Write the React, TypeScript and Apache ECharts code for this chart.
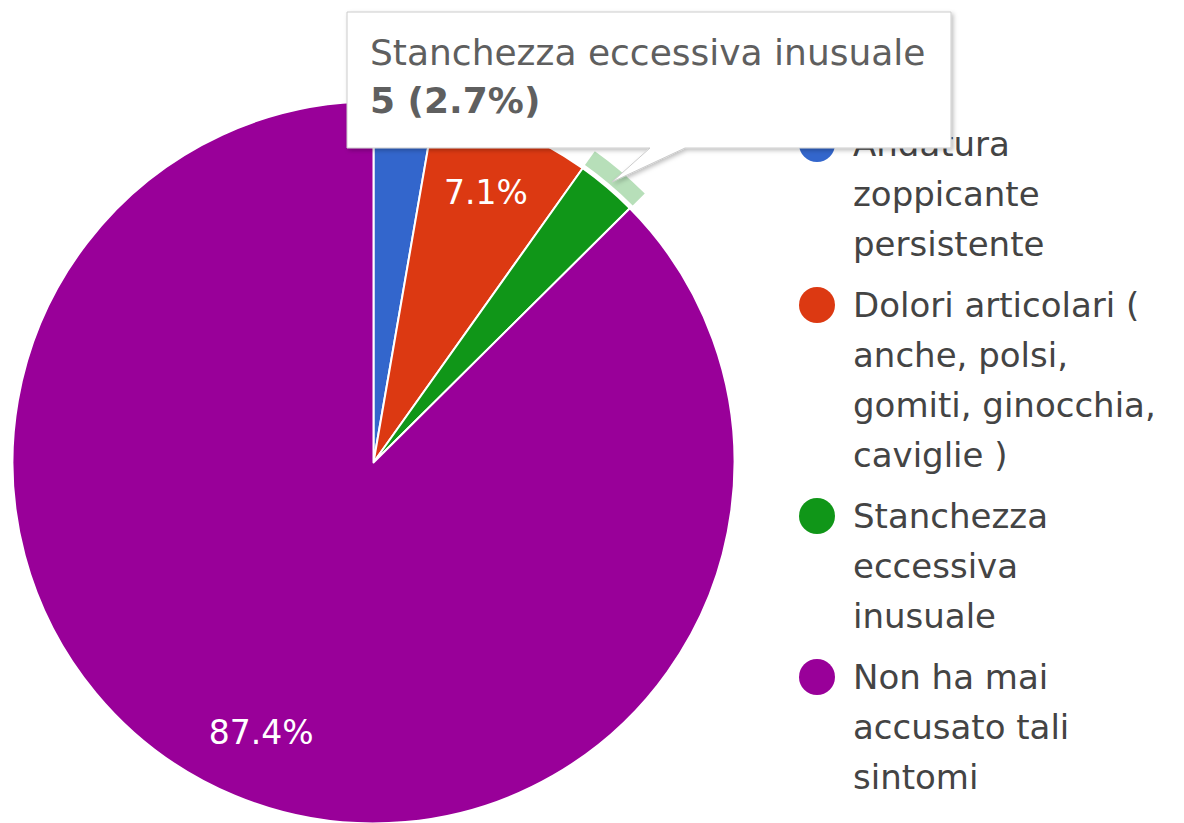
import React, { useEffect, useRef } from "react";
import * as echarts from "echarts";

const categories = [
  "Andatura zoppicante persistente",
  "Dolori articolari ( anche, polsi, gomiti, ginocchia, caviglie )",
  "Stanchezza eccessiva inusuale",
  "Non ha mai accusato tali sintomi",
];
const values = [5, 13, 5, 160];
const colors = ["#3366cc", "#dc3912", "#109618", "#990099"];
const haloColor = "#b7dfb9";
const legendLines = [
  ["Andatura", "zoppicante", "persistente"],
  ["Dolori articolari (", "anche, polsi,", "gomiti, ginocchia,", "caviglie )"],
  ["Stanchezza", "eccessiva", "inusuale"],
  ["Non ha mai", "accusato tali", "sintomi"],
];
const highlightedIndex = 2;

const FONT = "DejaVu Sans";

export default function App() {
  const ref = useRef<HTMLDivElement>(null);
  useEffect(() => {
    document.body.style.margin = "0";
    const chart = echarts.init(ref.current!, null, { renderer: "svg" });
    const total = values.reduce((a, b) => a + b, 0);
    const pct = (v: number) => ((v / total) * 100).toFixed(1) + "%";
    const data = categories.map((name, i) => ({ name, value: values[i] }));
    const center = [373.5, 462.5];

    const rich: any = {
      s: { width: 18, height: 36 },
      p: { width: 54, height: 36 },
      t: { fontSize: 34, fontFamily: FONT, color: "#444444", lineHeight: 50 },
    };
    colors.forEach((c, i) => {
      rich["d" + i] = {
        width: 36,
        height: 36,
        borderRadius: 18,
        backgroundColor: c,
        lineHeight: 50,
      };
    });

    chart.setOption({
      animation: false,
      backgroundColor: "#ffffff",
      color: colors,
      legend: {
        orient: "vertical",
        left: 794,
        top: 119,
        padding: 0,
        itemGap: 11,
        icon: "none",
        itemWidth: 0,
        itemHeight: 36,
        data: categories,
        formatter: (name: string) => {
          const i = categories.indexOf(name);
          return legendLines[i]
            .map((line, k) =>
              k === 0 ? `{d${i}|}{s|}{t|${line}}` : `{p|}{t|${line}}`
            )
            .join("\n");
        },
        textStyle: {
          fontSize: 34,
          fontFamily: FONT,
          color: "#444444",
          lineHeight: 50,
          rich,
        },
      },
      series: [
        {
          type: "pie",
          name: "main",
          center,
          radius: [0, 361],
          startAngle: 90,
          clockwise: true,
          silent: true,
          label: { show: false },
          labelLine: { show: false },
          itemStyle: { borderColor: "#ffffff", borderWidth: 2 },
          data: data.map((d, i) => ({ ...d, itemStyle: { color: colors[i] } })),
        },
        {
          type: "pie",
          name: "halo",
          center,
          radius: [365, 382],
          startAngle: 90,
          clockwise: true,
          silent: true,
          legendHoverLink: false,
          label: { show: false },
          labelLine: { show: false },
          data: data.map((d, i) => ({
            ...d,
            itemStyle: {
              color: i === highlightedIndex ? haloColor : "rgba(0,0,0,0)",
            },
          })),
        },
        {
          type: "pie",
          name: "labels",
          center,
          radius: [217, 361],
          startAngle: 90,
          clockwise: true,
          silent: true,
          legendHoverLink: false,
          labelLine: { show: false },
          label: {
            show: true,
            position: "inner",
            fontSize: 33,
            fontFamily: FONT,
            color: "#ffffff",
            formatter: (p: any) => (p.value / total >= 0.05 ? pct(p.value) : ""),
          },
          data: data.map((d) => ({
            ...d,
            itemStyle: { color: "rgba(0,0,0,0)" },
          })),
        },
      ],
      graphic: [
        {
          type: "group",
          z: 100,
          children: [
            {
              type: "polygon",
              z: 100,
              shape: {
                points: [
                  [347, 12],
                  [951, 12],
                  [951, 148],
                  [685, 148],
                  [612, 182],
                  [650, 148],
                  [347, 148],
                ],
              },
              style: {
                fill: "#ffffff",
                stroke: "#cccccc",
                lineWidth: 1,
                shadowBlur: 4,
                shadowOffsetX: 2,
                shadowOffsetY: 2,
                shadowColor: "rgba(0,0,0,0.25)",
              },
            },
            {
              type: "text",
              z: 101,
              style: {
                x: 370,
                y: 52.5,
                text: categories[highlightedIndex],
                fontSize: 36,
                fontFamily: FONT,
                fill: "#5f5f5f",
                verticalAlign: "middle",
              },
            },
            {
              type: "text",
              z: 101,
              style: {
                x: 370,
                y: 100.5,
                text: `${values[highlightedIndex]} (${pct(values[highlightedIndex])})`,
                fontSize: 36,
                fontWeight: "bold",
                fontFamily: FONT,
                fill: "#5f5f5f",
                verticalAlign: "middle",
              },
            },
          ],
        },
      ],
    });
    return () => chart.dispose();
  }, []);
  return <div ref={ref} style={{ width: 1184, height: 823 }} />;
}
